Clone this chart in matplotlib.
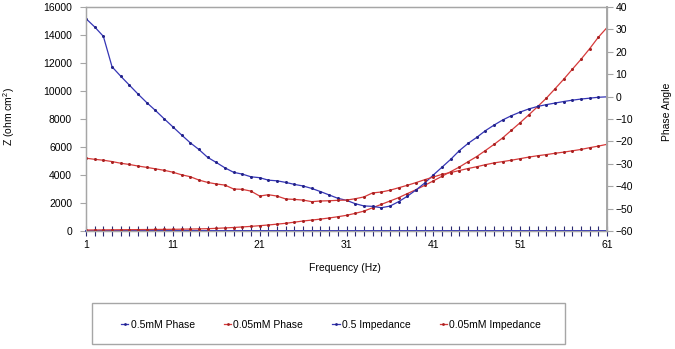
import matplotlib
matplotlib.use("Agg")
import matplotlib.pyplot as plt
from matplotlib.lines import Line2D
from matplotlib.patches import Rectangle

plt.rcParams['font.family'] = ['Liberation Sans', 'DejaVu Sans']
plt.rcParams['mathtext.fontset'] = 'custom'
plt.rcParams['mathtext.rm'] = 'Liberation Sans'
plt.rcParams['mathtext.default'] = 'regular'

# ---------------- data ----------------
freq = list(range(1, 62))

# 0.5mM Phase (right axis, degrees)
phase_05 = [34.8, 31.1, 26.9, 13.3, 9.1, 5.1, 1.1, -2.7, -6.2, -9.9,
            -13.5, -17.1, -20.6, -23.6, -27.1, -29.4, -31.8, -33.8, -34.6, -35.8,
            -36.2, -37.3, -37.6, -38.3, -39.2, -39.9, -41.0, -42.4, -43.9, -45.4,
            -46.3, -47.8, -48.8, -49.0, -49.6, -48.9, -46.9, -44.5, -41.7, -38.6,
            -35.0, -31.5, -28.0, -24.1, -20.9, -18.2, -15.2, -12.7, -10.4, -8.5,
            -6.9, -5.5, -4.4, -3.6, -2.9, -2.2, -1.6, -1.1, -0.7, -0.3, -0.1]

# 0.05mM Phase (right axis, degrees)
phase_005 = [-27.5, -28.0, -28.4, -29.0, -29.75, -30.3, -31.0, -31.6, -32.25, -32.9,
             -33.75, -34.9, -35.75, -37.25, -38.3, -39.0, -39.5, -41.25, -41.4, -42.2,
             -44.4, -43.8, -44.4, -45.7, -45.9, -46.2, -46.9, -46.6, -46.5, -46.3,
             -46.2, -45.6, -44.8, -43.0, -42.6, -41.8, -40.7, -39.6, -38.4, -37.1,
             -35.9, -34.7, -33.9, -33.0, -32.1, -31.3, -30.4, -29.6, -29.0, -28.4,
             -27.7, -27.0, -26.4, -25.9, -25.3, -24.8, -24.2, -23.6, -22.8, -22.1, -21.3]

# 0.5 Impedance (left axis, ohm cm2)
imp_05 = [0, 0, 0, 0, 0, 0, 0, 0, 0, 0,
          0, 0, 0, 0, 0, 0, 0, 0, 0, 0,
          0, 0, 0, 0, 0, 0, 0, 0, 0, 0,
          0, 0, 0, 0, 0, 0, 0, 0, 0, 0,
          0, 0, 0, 0, 0, 0, 0, 0, 0, 0,
          0, 0, 0, 0, 0, 0, 0, 0, 0, 0, 0]

# 0.05mM Impedance (left axis, ohm cm2)
imp_005 = [70, 75, 80, 85, 90, 95, 100, 105, 110, 115,
           120, 130, 140, 150, 165, 190, 220, 250, 290, 330,
           380, 430, 490, 550, 630, 714, 780, 850, 930, 1020,
           1120, 1260, 1420, 1660, 1900, 2140, 2380, 2670, 2950, 3260,
           3580, 3910, 4240, 4570, 4950, 5320, 5750, 6190, 6660, 7200,
           7740, 8300, 8880, 9480, 10150, 10830, 11550, 12260, 13020, 13840, 14530]

left_ticks = [0, 2000, 4000, 6000, 8000, 10000, 12000, 14000, 16000]
right_ticks = [-60, -50, -40, -30, -20, -10, 0, 10, 20, 30, 40]
x_labels = [1, 11, 21, 31, 41, 51, 61]

BLUE = '#3535b5'
RED = '#d63a3a'
GRAY = '#a6a6a6'

# ---------------- figure ----------------
W, H = 675, 349
fig = plt.figure(figsize=(W / 100, H / 100), dpi=100)
ax = fig.add_axes([86 / W, 1 - 231 / H, (607 - 86) / W, (231 - 7) / H])
ax2 = ax.twinx()

ax.set_xlim(1, 61)
ax.set_ylim(0, 16000)
ax2.set_ylim(-60, 40)

ms = 2.2
l1, = ax2.plot(freq, phase_05, color=BLUE, lw=0.9, marker='o', ms=ms, mec='none', mfc='#22228a')
l2, = ax2.plot(freq, phase_005, color=RED, lw=0.9, marker='o', ms=ms, mec='none', mfc='#a82020')
l3, = ax.plot(freq, imp_05, color=BLUE, lw=1.4, clip_on=False, zorder=3)
l4, = ax.plot(freq, imp_005, color=RED, lw=0.9, marker='o', ms=ms, mec='none', mfc='#a82020', zorder=3)

# ticks
ax.set_xticks(freq)
ax.set_xticklabels([str(f) if f in x_labels else '' for f in freq])
ax.tick_params(axis='x', direction='inout', length=7, width=0.8, color='#2a2a70',
               labelsize=7.5, pad=3)
ax.set_yticks(left_ticks)
ax.tick_params(axis='y', direction='out', length=4, width=0.8, color=GRAY,
               labelsize=7.5, pad=6)
ax2.set_yticks(right_ticks)
ax2.tick_params(axis='y', direction='out', length=4, width=0.8, color=GRAY,
                labelsize=7.5, pad=2)

for a in (ax, ax2):
    for s in a.spines.values():
        s.set_color(GRAY)
        s.set_linewidth(0.9)
ax2.spines['right'].set_linewidth(1.4)

ax.set_ylabel('Z (ohm cm$^{2}$)', fontsize=7.5)
ax.yaxis.set_label_coords((17 - 86) / 521, 0.51)
ax2.set_ylabel('Phase Angle', fontsize=7.5)
ax2.yaxis.set_label_coords((662 - 86) / 521, 0.53)
ax.set_xlabel('Frequency (Hz)', fontsize=7.5)
ax.xaxis.set_label_coords(0.497, -0.145)

# legend
fig.patches.append(Rectangle((92 / W, 1 - 344 / H), (565 - 92) / W, (344 - 303) / H,
                             transform=fig.transFigure, fill=False,
                             edgecolor=GRAY, lw=1.0))

def h(c, mc):
    return Line2D([0], [0], color=c, lw=0.9, marker='o', ms=2, mec='none', mfc=mc)

handles = [h(BLUE, '#22228a'), h(RED, '#a82020'), h(BLUE, '#22228a'), h(RED, '#a82020')]
labels = ['0.5mM Phase', '0.05mM Phase', '0.5 Impedance', '0.05mM Impedance']
fig.legend(handles, labels, loc='center', bbox_to_anchor=(331 / W, 1 - 325 / H),
           ncol=4, frameon=False, fontsize=7.5, handlelength=0.7, handletextpad=0.2,
           columnspacing=2.8)

fig.savefig('out.png', dpi=100)
